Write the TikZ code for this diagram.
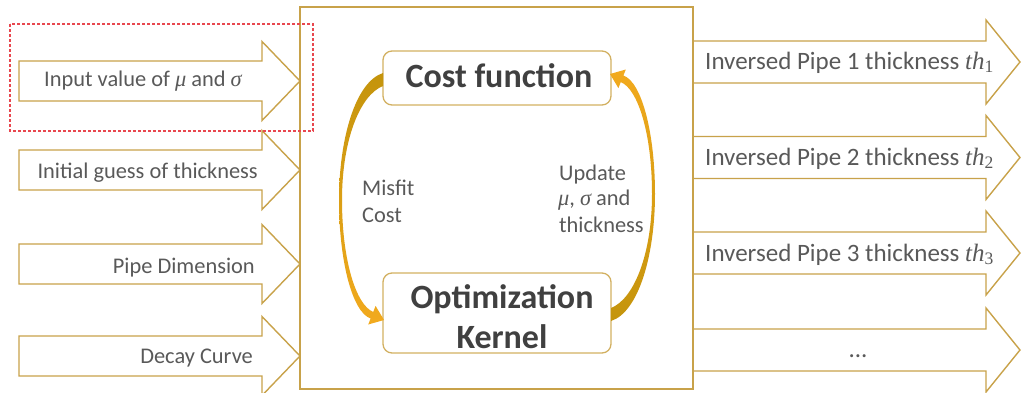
\documentclass[tikz,border=0pt]{standalone}
\usepackage{fontspec}
\setmainfont{Carlito}
\newfontfamily\myserif{Liberation Serif}
\definecolor{gold}{HTML}{C8A24A}
\definecolor{boxline}{HTML}{D2B061}
\definecolor{curvdark}{HTML}{C4940C}
\definecolor{curvmid}{HTML}{D8A018}
\definecolor{curvlight}{HTML}{F2AA1E}
\definecolor{txtgray}{HTML}{595959}
\definecolor{boldgray}{HTML}{404040}
\definecolor{dashred}{HTML}{E8474F}
\newcommand\myinarrow[1]{\draw[blk,shift={(0,#1)}] (19,-20) -- (262,-20) -- (262,-39.5) -- (300,0) -- (262,39.5) -- (262,20) -- (19,20) -- cycle;}
\newcommand\myoutarrow[1]{\draw[blk,shift={(0,#1)}] (693,-21) -- (986,-21) -- (986,-42) -- (1020,0) -- (986,42) -- (986,21) -- (693,21) -- cycle;}
\newcommand\mycurvarrow[1]{\shade[#1] (383,73) .. controls (355,82) and (339,140) .. (339,200) .. controls (339,260) and (352,312) .. (370.6,318.5) -- (368.2,324.5) -- (384,320) -- (375.6,305.9) -- (373.2,311.9) .. controls (356,305) and (342,260) .. (342,200) .. controls (342,140) and (360,95) .. (383,86) -- cycle;}
\newcommand\mymath[1]{{\myserif\itshape #1}}
\newcommand\mysubs[1]{\textsubscript{\myserif #1}}
\begin{document}
\begin{tikzpicture}[x=1pt,y=-1pt,
  blk/.style={draw=gold, line width=1.4pt, line join=miter},
  rbox/.style={draw=boxline, line width=1.3pt, rounded corners=9pt, inner sep=0pt},
  lbl/.style={inner sep=0pt, text=txtgray, font=\fontsize{22.4}{27}\selectfont},
  rlbl/.style={inner sep=0pt, text=txtgray, font=\fontsize{25}{30}\selectfont},
  big/.style={inner sep=0pt, text=boldgray, font=\bfseries\fontsize{34}{40}\selectfont}]
\useasboundingbox (0,0) rectangle (1021,392);
% input arrows
\myinarrow{81}
\myinarrow{170}
\myinarrow{264}
\myinarrow{356}
% output arrows
\myoutarrow{62}
\myoutarrow{157.5}
\myoutarrow{253}
\myoutarrow{350}
% main box
\draw[blk] (300,7) rectangle (693,389);
% dashed highlight
\draw[draw=dashred, line width=1.1pt, dash pattern=on 3pt off 2pt] (10,24) rectangle (313,131);
% inner boxes
\node[rbox, minimum width=228pt, minimum height=54pt] (cfbox) at (497,78) {};
\node[rbox, minimum width=228pt, minimum height=80pt] (okbox) at (497,313) {};
% curved arrows
\mycurvarrow{top color=curvdark, middle color=curvmid, bottom color=curvlight}
\begin{scope}[rotate around={180:(497,197)}]
\mycurvarrow{top color=curvlight, middle color=curvmid, bottom color=curvdark}
\end{scope}
% texts
\node[big, anchor=base] (cf) at (499,87) {Cost function};
\node[big, anchor=base] (ok1) at (502,308) {Optimization};
\node[big, anchor=base] (ok2) at (502,348) {Kernel};
\node[lbl, anchor=base west] (mis1) at (362,195) {Misfit};
\node[lbl, anchor=base west] (mis2) at (362,222) {Cost};
\node[lbl, anchor=base west] (up1) at (559,180) {Update};
\node[lbl, anchor=base west] (up2) at (558,205) {\mymath{μ}, \mymath{σ} and};
\node[lbl, anchor=base west] (up3) at (559,232) {thickness};
\node[lbl, anchor=base west] (t1) at (44,86) {Input value of \mymath{μ} and \mymath{σ}};
\node[lbl, anchor=base east] (t2) at (258,178) {Initial guess of thickness};
\node[lbl, anchor=base east] (t3) at (255,273) {Pipe Dimension};
\node[lbl, anchor=base east] (t4) at (253,363) {Decay Curve};
\node[rlbl, anchor=base west] (o1) at (705,69) {Inversed Pipe 1 thickness \mymath{th}\mysubs{1}};
\node[rlbl, anchor=base west] (o2) at (705,165) {Inversed Pipe 2 thickness \mymath{th}\mysubs{2}};
\node[rlbl, anchor=base west] (o3) at (705,261) {Inversed Pipe 3 thickness \mymath{th}\mysubs{3}};
\node[rlbl, anchor=base] (o4) at (858,357) {...};
\end{tikzpicture}
\end{document}
